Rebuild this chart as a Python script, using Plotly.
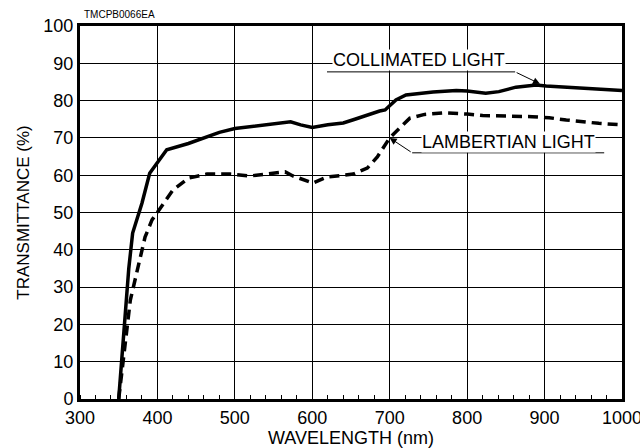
import plotly.graph_objects as go

# Collimated light transmittance (solid curve)
wl_collimated = [350, 354, 358, 363, 368, 380, 390, 400, 412, 440, 460, 480, 500, 520,
                 540, 560, 572, 585, 600, 620, 640, 655, 670, 687, 694, 708, 721, 756,
                 786, 800, 824, 841, 863, 889, 902, 928, 970, 1000]
collimated = [0, 11, 24, 35, 44.5, 52.5, 60.5, 63.5, 66.8, 68.5, 70, 71.5, 72.5, 73,
              73.3, 74, 74.3, 73.5, 72.8, 73.5, 74, 75, 76.1, 77.2, 77.5, 80.2, 81.5, 82.3,
              82.7, 82.6, 82, 82.4, 83.6, 84.2, 83.9, 83.6, 83.1, 82.7]

# Lambertian light transmittance (dashed curve)
wl_lambertian = [350, 356, 365, 375, 384, 393, 403, 420, 440, 464, 494, 520, 541, 565,
                 575, 601, 619, 653, 671, 684, 700, 713, 726, 745, 770, 800, 820, 884,
                 906, 928, 970, 1000]
lambertian = [0, 11, 26.5, 35.4, 43.4, 48, 51, 56, 59.2, 60.3, 60.3, 59.8, 60.3, 60.9,
              59.8, 57.9, 59.5, 60.3, 61.9, 64.9, 70, 72.8, 75.3, 76.3, 76.7, 76.4, 76.0, 75.7,
              75.4, 74.8, 73.9, 73.5]

x_ticks = [300, 400, 500, 600, 700, 800, 900, 1000]
y_ticks = [0, 10, 20, 30, 40, 50, 60, 70, 80, 90, 100]

FONT = "Liberation Sans, Arial, sans-serif"

fig = go.Figure()
fig.add_trace(go.Scatter(x=wl_collimated, y=collimated, mode="lines",
                         line=dict(color="black", width=3.5), name="COLLIMATED LIGHT"))
fig.add_trace(go.Scatter(x=wl_lambertian, y=lambertian, mode="lines",
                         line=dict(color="black", width=3.5, dash="10px,6px"),
                         name="LAMBERTIAN LIGHT"))

axis_common = dict(showline=True, linecolor="black", linewidth=3, mirror=True,
                   showgrid=True, gridcolor="black", gridwidth=1.2, zeroline=False,
                   automargin=False,
                   tickfont=dict(family=FONT, size=18, color="black"))

fig.update_xaxes(range=[300, 1000], tickvals=x_ticks, ticks="", **axis_common,
                 ticklabeloverflow="allow",
                 minor=dict(dtick=20, tick0=300, ticks="inside", ticklen=4,
                            tickcolor="black", tickwidth=1, showgrid=False),
                 title=dict(text="WAVELENGTH (nm)", standoff=6,
                            font=dict(family=FONT, size=18, color="black")))
fig.update_yaxes(range=[0, 100], tickvals=y_ticks, ticks="", **axis_common,
                 title=dict(text="TRANSMITTANCE (%)", standoff=10,
                            font=dict(family=FONT, size=17, color="black")))

# Curve labels with leader lines
label_font = dict(family=FONT, size=18, color="black")
fig.add_annotation(x=738, y=91.0, text="COLLIMATED LIGHT", showarrow=False,
                   font=label_font, bgcolor="white", borderpad=0)
fig.add_annotation(x=853, y=68.9, text="LAMBERTIAN LIGHT", showarrow=False,
                   font=label_font, bgcolor="white", borderpad=0)

fig.add_shape(type="line", x0=619, x1=862, y0=87.7, y1=87.7,
              line=dict(color="black", width=1))
fig.add_shape(type="line", x0=729, x1=977, y0=66.0, y1=66.0,
              line=dict(color="black", width=1))

fig.add_annotation(x=894, y=84.5, ax=862, ay=87.7, axref="x", ayref="y", text="",
                   showarrow=True, arrowhead=2, arrowsize=1.4, arrowwidth=1,
                   arrowcolor="black")
fig.add_annotation(x=700, y=70.0, ax=729, ay=66.0, axref="x", ayref="y", text="",
                   showarrow=True, arrowhead=2, arrowsize=1.4, arrowwidth=1,
                   arrowcolor="black")

fig.add_annotation(xref="paper", yref="paper", x=0.004, y=1.0, yshift=4,
                   xanchor="left", yanchor="bottom", text="TMCPB0066EA",
                   showarrow=False, font=dict(family=FONT, size=10, color="black"))

fig.update_layout(width=640, height=448, margin=dict(l=80, r=18, t=26, b=49),
                  paper_bgcolor="white", plot_bgcolor="white", showlegend=False)

fig.write_html("out.html")
